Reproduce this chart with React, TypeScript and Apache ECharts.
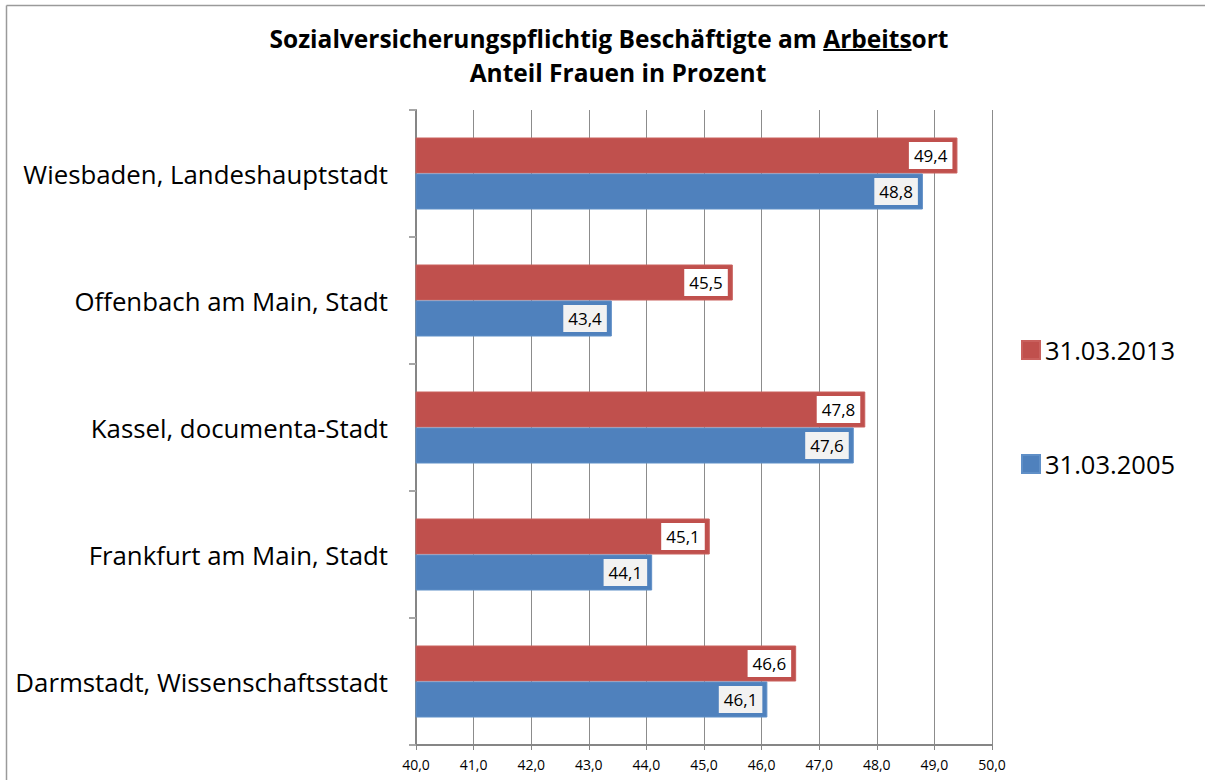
import React, { useEffect, useRef } from "react";
import * as echarts from "echarts";

const categories = [
  "Wiesbaden, Landeshauptstadt",
  "Offenbach am Main, Stadt",
  "Kassel, documenta-Stadt",
  "Frankfurt am Main, Stadt",
  "Darmstadt, Wissenschaftsstadt",
];
const values2013 = [49.4, 45.5, 47.8, 45.1, 46.6];
const values2005 = [48.8, 43.4, 47.6, 44.1, 46.1];
const seriesNames = ["31.03.2013", "31.03.2005"];
const titleLine1a = "Sozialversicherungspflichtig Beschäftigte am ";
const titleLine1b = "Arbeits";
const titleLine1c = "ort";
const titleLine2 = "Anteil Frauen in Prozent";

const FONT = "'Open Sans', 'Noto Sans', sans-serif";
const fmt = (v: number) => v.toFixed(1).replace(".", ",");

export default function App() {
  const ref = useRef<HTMLDivElement>(null);
  useEffect(() => {
    if (!ref.current) return;
    const chart = echarts.init(ref.current, undefined, { renderer: "svg" });
    const ctx = document.createElement("canvas").getContext("2d")!;
    // fit title width to the reference (about 678px)
    let titleSize = 22;
    ctx.font = `bold ${titleSize}px ${FONT}`;
    const w0 = ctx.measureText(titleLine1a + titleLine1b + titleLine1c).width;
    titleSize = Math.round((22 * 678) / w0 * 10) / 10;
    const titleFont = `bold ${titleSize}px ${FONT}`;
    ctx.font = titleFont;
    const wA = ctx.measureText(titleLine1a).width;
    const wB = ctx.measureText(titleLine1b).width;
    const wC = ctx.measureText(titleLine1c).width;
    const total = wA + wB + wC;
    const cx = 609;
    const x0 = cx - total / 2;
    const titleY1 = 38;
    const titleY2 = 72;

    const labelCommon = {
      show: true,
      position: "insideRight",
      distance: 5,
      formatter: (p: any) => fmt(p.value),
      fontSize: 17,
      color: "#000",
      padding: [6, 5, 4, 5],
    };

    chart.setOption({
      animation: false,
      backgroundColor: "#fff",
      textStyle: { fontFamily: FONT },
      grid: { left: 416, right: 213, top: 110, bottom: 35, containLabel: false },
      legend: {
        orient: "vertical",
        left: 1021,
        top: 337,
        padding: 0,
        itemWidth: 18,
        itemHeight: 18,
        itemGap: 88,
        icon: "rect",
        data: seriesNames,
        textStyle: { fontSize: 25.5, color: "#000", fontFamily: FONT },
      },
      xAxis: {
        type: "value",
        min: 40,
        max: 50,
        interval: 1,
        axisLine: { show: true, lineStyle: { color: "#868686", width: 2 } },
        axisTick: { show: true, length: 5, lineStyle: { color: "#868686" } },
        axisLabel: { formatter: (v: number) => fmt(v), fontSize: 14, color: "#000", margin: 12 },
        splitLine: { show: true, lineStyle: { color: "#8c8c8c", width: 1 } },
      },
      yAxis: {
        type: "category",
        data: categories,
        inverse: true,
        axisLine: { show: true, lineStyle: { color: "#868686", width: 2 } },
        axisTick: { show: true, length: 7, lineStyle: { color: "#a6a6a6", width: 2 } },
        axisLabel: { fontSize: 25.8, color: "#000", margin: 28 },
        splitLine: { show: false },
      },
      series: [
        {
          name: seriesNames[0],
          type: "bar",
          data: values2013,
          barWidth: 36,
          barGap: "0%",
          itemStyle: { color: "#c0504d", borderColor: "#c9605d", borderWidth: 1 },
          label: { ...labelCommon, backgroundColor: "#ffffff" },
        },
        {
          name: seriesNames[1],
          type: "bar",
          data: values2005,
          barWidth: 36,
          barGap: "0%",
          itemStyle: { color: "#4f81bd", borderColor: "#5f8fc7", borderWidth: 1 },
          label: { ...labelCommon, backgroundColor: "#f2f2f2" },
        },
      ],
      graphic: [
        {
          type: "line",
          shape: { x1: 6.5, y1: 5.5, x2: 1205, y2: 5.5 },
          style: { stroke: "#9a9a9a", lineWidth: 1.5 },
          silent: true,
        },
        {
          type: "line",
          shape: { x1: 6.5, y1: 5.5, x2: 6.5, y2: 780 },
          style: { stroke: "#9a9a9a", lineWidth: 1.5 },
          silent: true,
        },
        {
          type: "text",
          x: x0,
          y: titleY1,
          style: {
            text: titleLine1a + titleLine1b + titleLine1c,
            font: titleFont,
            fill: "#000",
            textAlign: "left",
            textVerticalAlign: "middle",
          },
        },
        {
          type: "line",
          shape: { x1: x0 + wA, y1: titleY1 + 12, x2: x0 + wA + wB, y2: titleY1 + 12 },
          style: { stroke: "#000", lineWidth: 2 },
        },
        {
          type: "text",
          x: cx + 9,
          y: titleY2,
          style: {
            text: titleLine2,
            font: titleFont,
            fill: "#000",
            textAlign: "center",
            textVerticalAlign: "middle",
          },
        },
      ],
    });
    return () => chart.dispose();
  }, []);
  return (
    <div
      ref={ref}
      style={{ position: "fixed", left: 0, top: 0, width: 1205, height: 780 }}
    />
  );
}
